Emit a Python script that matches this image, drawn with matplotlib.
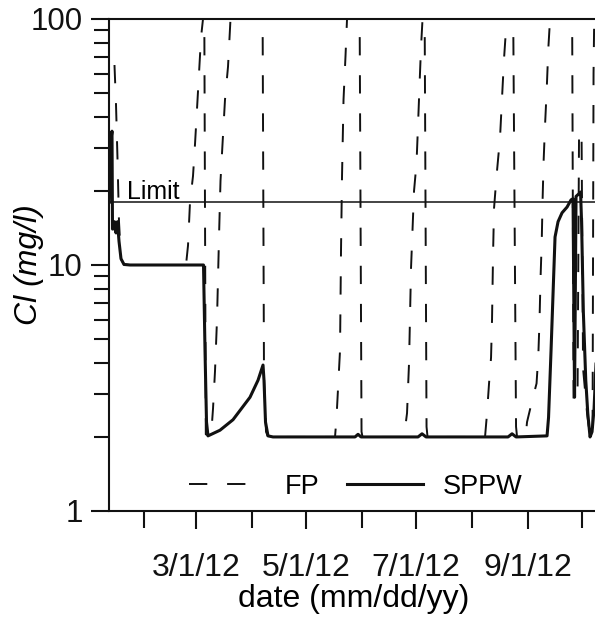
import numpy as np
import matplotlib
matplotlib.use("Agg")
import matplotlib.pyplot as plt
import matplotlib.dates as mdates
from matplotlib.ticker import FixedLocator, NullFormatter, FuncFormatter

plt.rcParams["font.family"] = ["Liberation Sans", "DejaVu Sans"]

# days since 2012-01-01 and Cl concentration (mg/l)
sppw_day = [11.89, 12.33, 13.44, 13.72, 13.99, 14.82, 15.66, 16.49, 17.32, 18.43,
            20.09, 23.42, 64.16, 64.99, 65.82, 66.65, 73.30, 80.51, 89.93, 94.37,
            97.14, 97.69, 98.52, 99.91, 102.68, 148.13, 149.80, 151.46, 183.05, 185.27,
            187.49, 232.94, 235.16, 237.38, 254.56, 255.39, 256.78, 258.99, 260.66, 262.87,
            265.65, 267.86, 268.97, 269.80, 270.63, 272.30, 273.13, 273.69, 274.69, 276.02,
            277.13, 278.39, 279.50, 280.61, 281.72]
sppw_cl = [18, 30, 35, 14, 14, 15, 13.5, 15, 12.5, 10.6,
           10.05, 10.0, 10.0, 4.5, 2.3, 2.02, 2.13, 2.35, 2.9, 3.4,
           3.92, 3.4, 2.3, 2.02, 2.0, 2.0, 2.05, 2.0, 2.0, 2.06,
           2.0, 2.0, 2.06, 2.0, 2.02, 2.4, 4.5, 13.0, 15.0, 16.3,
           17.2, 18.4, 18.6, 2.9, 19.0, 19.5, 19.8, 15.0, 6.4, 3.4,
           2.5, 2.0, 2.1, 2.6, 4.0]

fp_day = [14.82, 15.66, 16.49, 17.32, 18.43, 20.09, 23.42, 54.46, 55.57, 56.67,
          58.34, 59.45, 60.55, 61.66, 62.77, 63.88, 64.55, 65.43, 68.31, 69.42,
          70.53, 71.64, 72.75, 73.58, 74.69, 76.07, 77.74, 79.12, 80.51, 96.86,
          97.69, 98.80, 99.91, 137.05, 137.88, 139.82, 140.37, 140.93, 141.76, 142.87,
          143.70, 144.53, 150.63, 151.74, 152.29, 175.29, 176.96, 178.07, 179.17, 180.84,
          182.22, 183.05, 183.89, 184.72, 185.55, 186.10, 186.66, 187.77, 188.32, 220.19,
          221.30, 222.41, 223.52, 224.07, 224.63, 225.18, 226.57, 228.51, 229.62, 230.72,
          232.11, 232.94, 235.71, 237.38, 237.93, 242.64, 243.47, 246.24, 248.74, 249.73,
          250.40, 250.95, 251.62, 252.06, 252.62, 253.45, 254.39, 255.27, 256.22, 257.05,
          268.42, 269.25, 270.08, 271.47, 272.30, 273.69, 274.52, 276.73, 278.39, 279.78,
          280.33, 280.89]
fp_cl = [65, 45, 27, 15, 10.6, 10.05, 10.0, 10.0, 12, 18,
         23, 31, 43, 60, 84, 100, 130, 2.05, 2.0, 2.6,
         3.7, 6, 13, 22, 31, 47, 64, 100, 130, 130,
         3.5, 2.1, 2.0, 2.0, 2.4, 4.5, 11.5, 23, 47, 71,
         100, 130, 130, 2.1, 2.0, 2.0, 2.5, 4, 9.7, 20,
         26, 37, 54, 77, 100, 130, 130, 2.2, 2.0, 2.0,
         2.5, 3.3, 4.2, 6, 11, 17, 23, 33, 48, 69,
         98, 130, 130, 2.2, 2.0, 2.0, 2.3, 2.8, 3.3, 4.3,
         6, 8.8, 12.5, 18, 26, 37, 52, 76, 100, 130,
         130, 2.8, 3.0, 3.0, 35, 34, 3.8, 2.5, 2.0, 2.1,
         60, 130]

limit_cl = 18
x_range = [11.78, 282.8]
y_range = [1, 100]
label_months = [3, 5, 7, 9]
other_months = [2, 4, 6, 8, 10]


def to_dates(days):
    mins = np.round(np.asarray(days) * 24 * 60).astype("int64")
    return np.datetime64("2012-01-01T00:00") + mins.astype("timedelta64[m]")


fig = plt.figure(figsize=(5.95, 6.23), dpi=100)
ax = fig.add_axes([109 / 595, 1 - 511 / 623, 489 / 595, 492 / 623])

ax.plot(to_dates(fp_day), fp_cl, color="#111111", lw=1.4,
        linestyle=(0, (9.4, 10.2)), label="FP", zorder=2)
ax.plot(to_dates(sppw_day), sppw_cl, color="#111111", lw=2.2,
        label="SPPW", zorder=3, solid_joinstyle="round")
ax.axhline(limit_cl, color="#111111", lw=1.1, zorder=1)
ax.text(to_dates([21.75])[0], 18.6, "Limit", fontsize=18,
        ha="left", va="baseline")

ax.set_yscale("log")
ax.set_ylim(y_range)
ax.set_xlim(to_dates(x_range))
ax.yaxis.set_major_locator(FixedLocator([1, 10, 100]))
ax.yaxis.set_major_formatter(FuncFormatter(lambda v, p: f"{v:g}"))
minor_y = [m * d for d in (1, 10) for m in range(2, 10)]
ax.yaxis.set_minor_locator(FixedLocator(minor_y))
ax.yaxis.set_minor_formatter(NullFormatter())

ax.xaxis.set_major_locator(mdates.MonthLocator(bymonth=label_months))
ax.xaxis.set_minor_locator(mdates.MonthLocator(bymonth=other_months))
ax.xaxis.set_major_formatter(FuncFormatter(
    lambda v, p: "{0.month}/{0.day}/{1}".format(mdates.num2date(v), mdates.num2date(v).year % 100)))

ax.tick_params(axis="both", which="both", direction="out", width=1.5, colors="#111111")
ax.tick_params(axis="y", which="major", length=13, labelsize=22.5, pad=6)
ax.tick_params(axis="y", which="minor", length=11)
ax.tick_params(axis="x", which="major", length=13, labelsize=23, pad=17)
ax.tick_params(axis="x", which="minor", length=12)

for s in ax.spines.values():
    s.set_linewidth(1.5)
    s.set_color("#111111")

ax.set_ylabel("Cl (mg/l)", fontsize=23, style="italic")
ax.yaxis.set_label_coords(-0.133, 0.5)
ax.set_xlabel("date (mm/dd/yy)", fontsize=23, labelpad=1)

ax.legend(loc="center", bbox_to_anchor=(0.505, 0.049), ncol=2, frameon=False,
          fontsize=19.5, handlelength=2.8, handletextpad=0.75, columnspacing=1.0)

fig.savefig("out.png", dpi=100)
